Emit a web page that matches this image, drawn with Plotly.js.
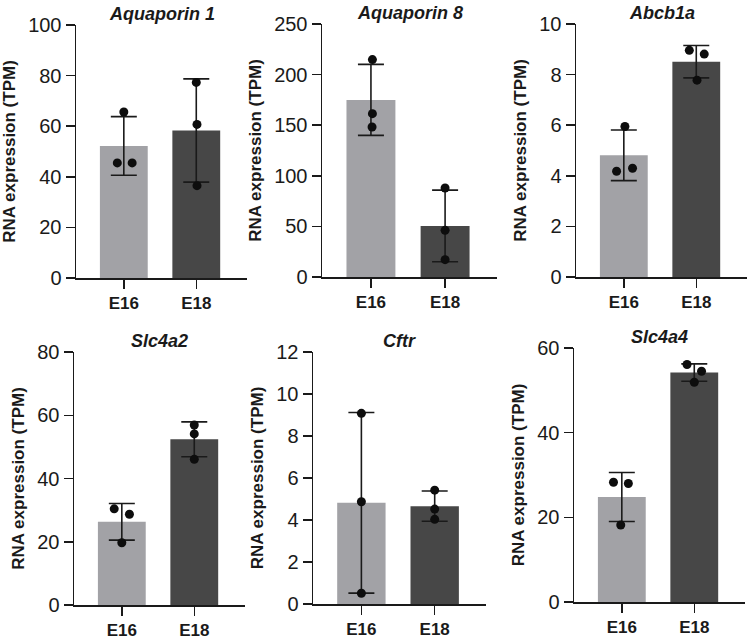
<!DOCTYPE html>
<html><head><meta charset="utf-8">
<script src="https://cdn.plot.ly/plotly-3.0.1.min.js"></script>
<style>html,body{margin:0;padding:0;background:#fff}#chart{width:750px;height:639px}</style>
</head><body><div id="chart"></div>
<script>
// ---- data ----
const categories = ['E16', 'E18'];
const genes = ['Aquaporin 1', 'Aquaporin 8', 'Abcb1a', 'Slc4a2', 'Cftr', 'Slc4a4'];
const yTitle = 'RNA expression (TPM)';

const aqp1Mean = [52.2, 58.3];
const aqp1Sd = [11.6, 20.4];
const aqp1E16 = [65.6, 45.5, 45.5];
const aqp1E18 = [77.3, 60.7, 36.5];

const aqp8Mean = [175.0, 50.4];
const aqp8Sd = [35.1, 35.4];
const aqp8E16 = [214.8, 161.4, 148.2];
const aqp8E18 = [87.9, 46.1, 17.1];

const abcb1aMean = [4.81, 8.51];
const abcb1aSd = [1.0, 0.64];
const abcb1aE16 = [5.95, 4.18, 4.30];
const abcb1aE18 = [8.96, 8.81, 7.78];

const slc4a2Mean = [26.3, 52.4];
const slc4a2Sd = [5.8, 5.5];
const slc4a2E16 = [30.4, 28.7, 19.7];
const slc4a2E18 = [56.9, 54.1, 46.1];

const cftrMean = [4.82, 4.66];
const cftrSd = [4.3, 0.72];
const cftrE16 = [9.08, 4.87, 0.51];
const cftrE18 = [5.42, 4.52, 4.03];

const slc4a4Mean = [24.8, 54.2];
const slc4a4Sd = [5.8, 2.05];
const slc4a4E16 = [28.3, 28.0, 18.2];
const slc4a4E18 = [56.1, 54.5, 51.9];

const yMax = [100, 250, 10, 80, 12, 60];
const yStep = [20, 50, 2, 20, 2, 20];

// ---- style ----
const means = [aqp1Mean, aqp8Mean, abcb1aMean, slc4a2Mean, cftrMean, slc4a4Mean];
const sds = [aqp1Sd, aqp8Sd, abcb1aSd, slc4a2Sd, cftrSd, slc4a4Sd];
const pts = [[aqp1E16, aqp1E18], [aqp8E16, aqp8E18], [abcb1aE16, abcb1aE18],
             [slc4a2E16, slc4a2E18], [cftrE16, cftrE18], [slc4a4E16, slc4a4E18]];
// horizontal scatter offsets of the dots (category units)
const jitter = [
  [[0, -0.09, 0.115], [0, 0.01, 0.01]],
  [[0.02, 0.02, 0.015], [0, 0, 0]],
  [[0.015, -0.1, 0.12], [-0.096, 0.11, 0.01]],
  [[-0.105, 0.105, 0], [0, 0, 0]],
  [[0, 0, 0], [0, 0, 0]],
  [[-0.115, 0.09, -0.015], [-0.1, 0.1, 0]]
];
// plot-area boxes in px: [x0, x1, y0, y1]
const boxes = [
  [76, 247, 25, 278], [322, 497, 24, 277], [576, 747, 24, 277],
  [74, 245, 352, 605], [313, 486, 352, 604], [574, 745, 348, 602]
];
const W = 750, H = 639;
const barColors = ['#a2a2a6', '#474747'];
const ink = '#1a1a1a';
const fontFam = 'Liberation Sans, Arial, Helvetica, sans-serif';

const data = [];
const layout = {
  width: W, height: H, margin: {l: 0, r: 0, t: 0, b: 0},
  paper_bgcolor: '#fff', plot_bgcolor: '#fff', showlegend: false,
  font: {family: fontFam, color: ink}, annotations: []
};

genes.forEach((g, i) => {
  const n = i + 1;
  const xa = n === 1 ? 'x' : 'x' + n, ya = n === 1 ? 'y' : 'y' + n;
  data.push({
    type: 'bar', x: [0, 1], y: means[i], xaxis: xa, yaxis: ya, width: 0.66,
    marker: {color: barColors, line: {width: 0}},
    error_y: {type: 'data', array: sds[i], visible: true, color: ink, thickness: 1.6, width: 13},
    hoverinfo: 'skip'
  });
  const px = [], py = [];
  pts[i].forEach((arr, c) => arr.forEach((v, k) => { px.push(c + jitter[i][c][k]); py.push(v); }));
  data.push({
    type: 'scatter', mode: 'markers', x: px, y: py, xaxis: xa, yaxis: ya,
    marker: {color: '#0d0d0d', size: 9}, hoverinfo: 'skip', cliponaxis: false
  });
  const b = boxes[i];
  const ticks = [];
  for (let v = 0; v <= yMax[i] + 1e-9; v += yStep[i]) ticks.push(v);
  layout['xaxis' + (n === 1 ? '' : n)] = {
    domain: [b[0] / W, b[1] / W], anchor: ya, range: [-0.66, 1.70],
    tickvals: [0, 1], ticktext: categories, ticks: 'outside', ticklen: 9, tickwidth: 1.5,
    tickcolor: ink, showline: true, linecolor: ink, linewidth: 1.5, showgrid: false, zeroline: false,
    tickfont: {size: 17, weight: 'bold', color: ink}, fixedrange: true
  };
  layout['yaxis' + (n === 1 ? '' : n)] = {
    domain: [1 - b[3] / H, 1 - b[2] / H], anchor: xa, range: [0, yMax[i]],
    tickvals: ticks, ticks: 'outside', ticklen: 9, tickwidth: 1.5, tickcolor: ink,
    showline: true, linecolor: ink, linewidth: 1.5, showgrid: false, zeroline: false,
    tickfont: {size: 20, color: ink},
    title: {text: yTitle, font: {size: 17, weight: 'bold', color: ink}, standoff: 8},
    fixedrange: true
  };
  layout.annotations.push({
    xref: 'paper', yref: 'paper', x: (b[0] + b[1]) / 2 / W, y: 1 - b[2] / H,
    xanchor: 'center', yanchor: 'bottom', yshift: -1, showarrow: false,
    text: g, font: {size: 18, weight: 'bold', style: 'italic', color: ink}
  });
});

Plotly.newPlot('chart', data, layout, {staticPlot: true});
</script>
</body></html>
